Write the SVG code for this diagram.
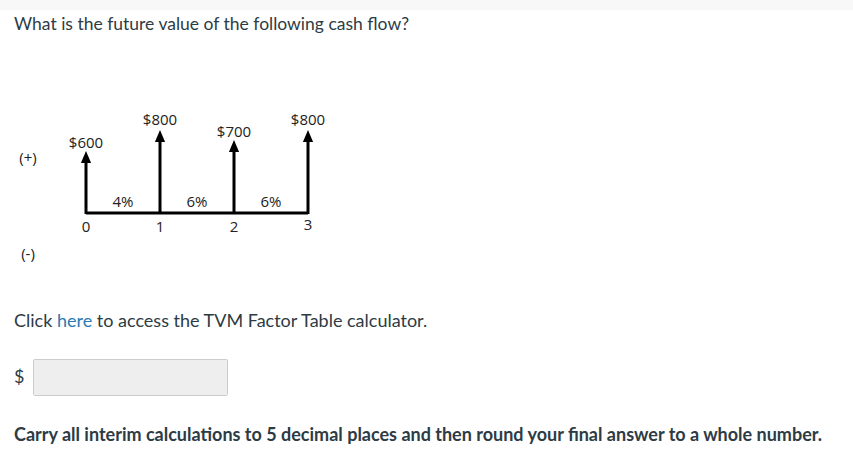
<svg xmlns="http://www.w3.org/2000/svg" width="853" height="472" viewBox="0 0 853 472">
<style>
.q{font-family:Lato,"Open Sans",sans-serif;font-size:18px;fill:#2d3b45}
.b{font-weight:bold}
.t{font-family:"Open Sans","Liberation Sans",sans-serif;font-size:15px;fill:#222}
.ln{stroke:#000;stroke-width:3;fill:none}
</style>
<defs>
<marker id="ah" markerWidth="4" markerHeight="4" refX="2" refY="2" orient="auto" markerUnits="strokeWidth">
<path d="M0,0.3 L4,2 L0,3.7 z" fill="#000"/>
</marker>
</defs>
<rect x="0" y="0" width="853" height="472" fill="#fff"/>
<rect x="0" y="0" width="853" height="10" fill="#f8f8f8"/>
<text class="q" x="14" y="30" style="font-size:17.5px">What is the future value of the following cash flow?</text>
<g id="labels-sign">
<text class="t" x="28" y="163" text-anchor="middle">(+)</text>
<text class="t" x="28" y="259" text-anchor="middle">(-)</text>
</g>
<g id="connectors">
<line class="ln" x1="86" y1="213" x2="308" y2="213"/>
<line class="ln" x1="86" y1="214" x2="86" y2="157" marker-end="url(#ah)"/>
<line class="ln" x1="160" y1="214" x2="160" y2="136" marker-end="url(#ah)"/>
<line class="ln" x1="234" y1="214" x2="234" y2="146" marker-end="url(#ah)"/>
<line class="ln" x1="308" y1="214" x2="308" y2="136" marker-end="url(#ah)"/>
</g>
<g id="t0"><text class="t" x="86" y="148" text-anchor="middle">$600</text><text class="t" x="86" y="232" text-anchor="middle">0</text></g>
<g id="t1"><text class="t" x="160" y="125" text-anchor="middle">$800</text><text class="t" x="160" y="232" text-anchor="middle">1</text></g>
<g id="t2"><text class="t" x="234" y="137" text-anchor="middle">$700</text><text class="t" x="234" y="232" text-anchor="middle">2</text></g>
<g id="t3"><text class="t" x="308" y="125" text-anchor="middle">$800</text><text class="t" x="308" y="230" text-anchor="middle">3</text></g>
<g id="rates">
<text class="t" x="123" y="207" text-anchor="middle">4%</text>
<text class="t" x="197" y="207" text-anchor="middle">6%</text>
<text class="t" x="271" y="207" text-anchor="middle">6%</text>
</g>
<text class="q" x="14" y="327">Click <tspan fill="#2a7ab0">here</tspan> to access the TVM Factor Table calculator.</text>
<g id="input">
<text class="q" x="14" y="383">$</text>
<rect x="33.5" y="359.5" width="194" height="36" fill="#eeeeee" stroke="#cccccc" rx="1"/>
</g>
<text class="q b" x="14" y="441">Carry all interim calculations to 5 decimal places and then round your final answer to a whole number.</text>
</svg>
